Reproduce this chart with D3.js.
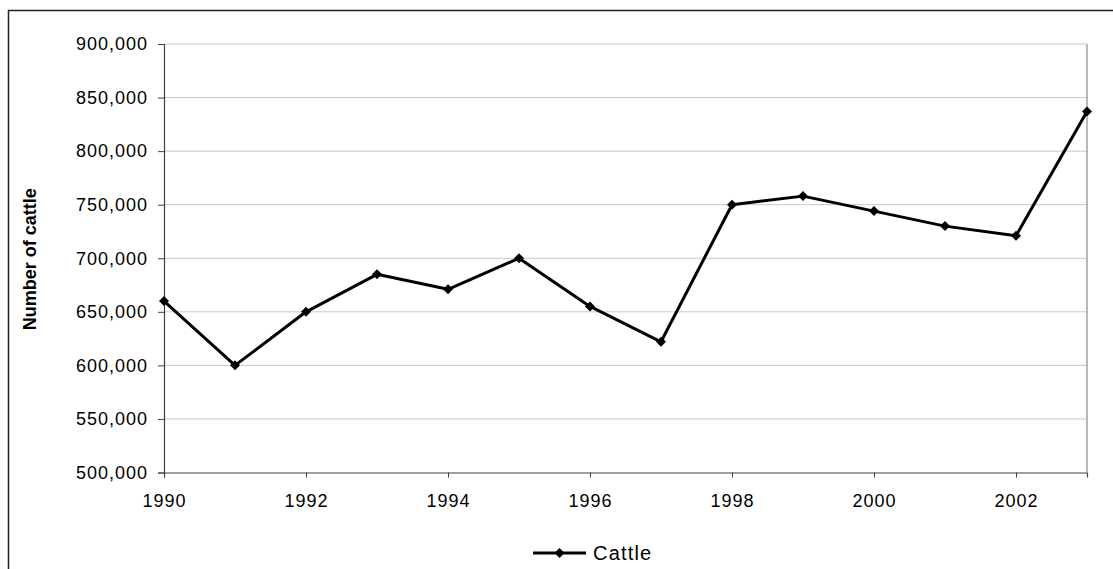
<!DOCTYPE html>
<html>
<head>
<meta charset="utf-8">
<script src="https://cdn.jsdelivr.net/npm/d3@7"></script>
<style>
  html, body { margin: 0; padding: 0; background: #fff; }
  svg { display: block; font-family: "Liberation Sans", Arial, sans-serif; }
</style>
</head>
<body>
<svg id="chart" width="1113" height="569"></svg>
<script>
// Cattle numbers by year
const years = [1990, 1991, 1992, 1993, 1994, 1995, 1996, 1997, 1998, 1999, 2000, 2001, 2002, 2003];
const cattle = [660000, 600000, 650000, 685000, 671000, 700000, 655000, 622000, 750000, 758000, 744000, 730000, 721000, 837000];
const yTicks = [500000, 550000, 600000, 650000, 700000, 750000, 800000, 850000, 900000];
const xTicks = [1990, 1992, 1994, 1996, 1998, 2000, 2002];
const seriesName = "Cattle";
const yTitle = "Number of cattle";

const FONT = "'Liberation Sans', Arial, sans-serif";
const svg = d3.select("#chart");
const plot = { left: 164, right: 1087, top: 44, bottom: 472.5 };

// outer chart frame (extends past the page edge on right and bottom)
svg.append("rect")
  .attr("x", 8.5).attr("y", 10.5)
  .attr("width", 1200).attr("height", 700)
  .attr("fill", "none").attr("stroke", "#222").attr("stroke-width", 1.5);

const x = d3.scaleLinear().domain([1990, 2003]).range([plot.left, plot.right]);
const y = d3.scaleLinear().domain([500000, 900000]).range([plot.bottom, plot.top]);

// horizontal gridlines
svg.append("g").selectAll("line")
  .data(yTicks.slice(1))
  .join("line")
  .attr("x1", plot.left).attr("x2", plot.right)
  .attr("y1", d => y(d)).attr("y2", d => y(d))
  .attr("stroke", "#c8c8c8").attr("stroke-width", 1);

// right edge of plot area
svg.append("line")
  .attr("x1", plot.right).attr("x2", plot.right)
  .attr("y1", plot.top).attr("y2", plot.bottom)
  .attr("stroke", "#8c8c8c").attr("stroke-width", 1.2);

// y axis
const fmt = d3.format(",");
const yAxis = svg.append("g")
  .attr("transform", `translate(${plot.left},0)`)
  .call(d3.axisLeft(y).tickValues(yTicks).tickSize(6).tickPadding(10).tickFormat(fmt));
yAxis.select(".domain").attr("stroke", "#404040").attr("stroke-width", 1.2);
yAxis.selectAll(".tick line").attr("stroke", "#404040");
yAxis.selectAll("text").attr("font-size", 18).attr("letter-spacing", 1)
  .attr("fill", "#000").attr("font-family", FONT);

// x axis
const xAxis = svg.append("g")
  .attr("transform", `translate(0,${plot.bottom})`)
  .call(d3.axisBottom(x).tickValues(xTicks).tickSize(5).tickPadding(17).tickFormat(d3.format("d")));
xAxis.select(".domain").attr("stroke", "#404040").attr("stroke-width", 1.2);
xAxis.selectAll(".tick line").attr("stroke", "#404040");
xAxis.selectAll("text").attr("font-size", 18).attr("letter-spacing", 1)
  .attr("fill", "#000").attr("font-family", FONT);

// y axis title
svg.append("text")
  .attr("transform", `translate(36,${(plot.top + plot.bottom) / 2 + 1}) rotate(-90)`)
  .attr("text-anchor", "middle")
  .attr("font-size", 18).attr("font-weight", "bold")
  .text(yTitle);

// series line
const pts = years.map((yr, i) => ({ yr, v: cattle[i] }));
svg.append("path")
  .datum(pts)
  .attr("fill", "none").attr("stroke", "#000").attr("stroke-width", 3)
  .attr("stroke-linejoin", "round")
  .attr("d", d3.line().x(d => x(d.yr)).y(d => y(d.v)));

// diamond markers
const marker = d3.symbol().type(d3.symbolSquare).size(50);
svg.append("g").selectAll("path")
  .data(pts)
  .join("path")
  .attr("transform", d => `translate(${x(d.yr)},${y(d.v)}) rotate(45)`)
  .attr("d", marker)
  .attr("fill", "#000");

// legend
const lg = svg.append("g").attr("transform", "translate(533,553)");
lg.append("line").attr("x1", 0).attr("x2", 53).attr("y1", 0).attr("y2", 0)
  .attr("stroke", "#000").attr("stroke-width", 3);
lg.append("path").attr("transform", "translate(26.5,0) rotate(45)")
  .attr("d", marker).attr("fill", "#000");
lg.append("text").attr("x", 60).attr("y", 7)
  .attr("font-size", 20).attr("letter-spacing", 1.2)
  .text(seriesName);
</script>
</body>
</html>
